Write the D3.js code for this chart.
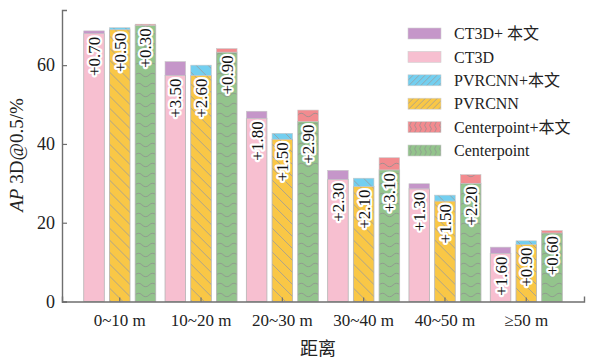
<!DOCTYPE html>
<html>
<head>
<meta charset="utf-8">
<script src="https://cdn.jsdelivr.net/npm/d3@7"></script>
<style>
  body { margin: 0; background: #fff; }
  text { font-family: "Liberation Serif", "Noto Sans CJK SC", serif; }
</style>
</head>
<body>
<script>
// data
var categories = ["0~10 m", "10~20 m", "20~30 m", "30~40 m", "40~50 m", "≥50 m"];
var methods = ["CT3D", "PVRCNN", "Centerpoint"];
var ct3d = [68.0, 57.4, 46.5, 31.0, 28.6, 12.2];
var ct3dGain = [0.70, 3.50, 1.80, 2.30, 1.30, 1.60];
var pvrcnn = [69.0, 57.4, 41.2, 29.2, 25.5, 14.5];
var pvrcnnGain = [0.50, 2.60, 1.50, 2.10, 1.50, 0.90];
var centerpoint = [70.1, 63.3, 45.7, 33.4, 30.0, 17.4];
var centerpointGain = [0.30, 0.90, 2.90, 3.10, 2.20, 0.60];
var yTicks = [0, 20, 40, 60];
var legendLabels = ["CT3D+ 本文", "CT3D", "PVRCNN+本文", "PVRCNN", "Centerpoint+本文", "Centerpoint"];

var width = 595, height = 359;
var svg = d3.select("body").append("svg")
    .attr("width", width)
    .attr("height", height);

// patterns
var defs = svg.append("defs");
function makePattern(id, color, kind, legend) {
  var s = kind == "wave" ? 14 : 12;
  var p = defs.append("pattern")
      .attr("id", id)
      .attr("patternUnits", "userSpaceOnUse")
      .attr("width", s).attr("height", kind == "wave" ? 10 : s);
  if (legend) p.attr("patternTransform", "rotate(90) scale(0.5)");
  p.append("rect").attr("width", s).attr("height", s).attr("fill", color);
  if (kind == "hatch") {
    p.append("path")
      .attr("d", "M0,0L12,12M-6,6L6,18M6,-6L18,6")
      .attr("stroke", "#9a9a9a").attr("stroke-width", legend ? 1.5 : 0.8).attr("fill", "none");
  } else if (kind == "wave") {
    p.append("path")
      .attr("d", "M0,5Q3.5,1.5 7,5T14,5")
      .attr("stroke", "#8f8f8f").attr("stroke-width", legend ? 1.5 : 0.8).attr("fill", "none");
  }
}
var colors = {
  pink: "#f7bfd0", purple: "#c596c9", yellow: "#f9c746",
  blue: "#73cff0", green: "#93c48c", red: "#f28b8f"
};
makePattern("p-yellow", colors.yellow, "hatch");
makePattern("p-blue", colors.blue, "hatch");
makePattern("p-green", colors.green, "wave");
makePattern("p-red", colors.red, "wave");
makePattern("l-yellow", colors.yellow, "hatch", true);
makePattern("l-blue", colors.blue, "hatch", true);
makePattern("l-green", colors.green, "wave", true);
makePattern("l-red", colors.red, "wave", true);

var baseFill = [colors.pink, "url(#p-yellow)", "url(#p-green)"];
var gainFill = [colors.purple, "url(#p-blue)", "url(#p-red)"];

// scales
var x0 = d3.scaleBand()
    .domain(categories)
    .range([62, 584])
    .paddingInner(0)
    .paddingOuter(0.21);

var bw = x0.bandwidth();
var x1 = d3.scaleBand()
    .domain(methods)
    .range([bw / 2 - 36, bw / 2 + 36])
    .paddingInner(0.2);

var y = d3.scaleLinear()
    .domain([0, 74])
    .range([301.5, 10]);

// build rows
var rows = [];
categories.forEach(function(c, i) {
  var bases = [ct3d[i], pvrcnn[i], centerpoint[i]];
  var gains = [ct3dGain[i], pvrcnnGain[i], centerpointGain[i]];
  methods.forEach(function(m, j) {
    rows.push({cat: c, method: m, j: j, base: bases[j], gain: gains[j]});
  });
});

var bars = svg.append("g").selectAll("g")
    .data(rows)
  .enter().append("g")
    .attr("transform", function(d) { return "translate(" + (x0(d.cat) + x1(d.method)) + ",0)"; });

bars.append("rect")
    .attr("y", function(d) { return y(d.base); })
    .attr("height", function(d) { return y(0) - y(d.base); })
    .attr("width", x1.bandwidth())
    .attr("fill", function(d) { return baseFill[d.j]; })
    .attr("stroke", "#b4b4b4")
    .attr("stroke-width", 0.8);

bars.append("rect")
    .attr("y", function(d) { return y(d.base + d.gain); })
    .attr("height", function(d) { return y(d.base) - y(d.base + d.gain); })
    .attr("width", x1.bandwidth())
    .attr("fill", function(d) { return gainFill[d.j]; })
    .attr("stroke", "#c8c8c8")
    .attr("stroke-width", 0.6);

// gain labels
bars.append("text")
    .attr("transform", function(d) {
      return "translate(" + (x1.bandwidth() / 2) + "," + (y(d.base) + 3) + ") rotate(-90)";
    })
    .attr("text-anchor", "end")
    .attr("dy", "0.35em")
    .attr("font-size", 17)
    .attr("fill", "#111")
    .attr("stroke", "#fff")
    .attr("stroke-width", 4.5)
    .attr("stroke-linejoin", "round")
    .attr("paint-order", "stroke")
    .text(function(d) { return "+" + d.gain.toFixed(2); });

// axes
var yAxis = svg.append("g")
    .attr("transform", "translate(62,0)")
    .call(d3.axisLeft(y).tickValues(yTicks).tickSizeInner(-5).tickSizeOuter(-5).tickPadding(7));

var xAxis = svg.append("g")
    .attr("transform", "translate(0," + y(0) + ")")
    .call(d3.axisBottom(x0).tickSizeInner(-4).tickSizeOuter(-5).tickPadding(12));

[yAxis, xAxis].forEach(function(a) {
  a.select(".domain").attr("stroke", "#6f6f6f").attr("stroke-width", 1.4);
  a.selectAll(".tick line").attr("stroke", "#6f6f6f").attr("stroke-width", 1.2);
  a.selectAll(".tick text")
    .attr("font-family", "Liberation Serif, Noto Sans CJK SC, serif")
    .attr("fill", "#222");
});
yAxis.selectAll(".tick text").attr("font-size", 18);
xAxis.selectAll(".tick text").attr("font-size", 17);

// axis titles
var yTitle = svg.append("text")
    .attr("transform", "translate(23,155) rotate(-90)")
    .attr("text-anchor", "middle")
    .attr("font-size", 19)
    .attr("fill", "#222");
yTitle.append("tspan").attr("font-style", "italic").text("AP");
yTitle.append("tspan").text(" 3D@0.5/%");

svg.append("text")
    .attr("x", 318)
    .attr("y", 355)
    .attr("text-anchor", "middle")
    .attr("font-size", 18)
    .attr("fill", "#222")
    .text("距离");

// legend
var legendFill = [colors.purple, colors.pink, "url(#l-blue)", "url(#l-yellow)", "url(#l-red)", "url(#l-green)"];
var legend = svg.append("g").selectAll("g")
    .data(legendLabels)
  .enter().append("g")
    .attr("transform", function(d, i) { return "translate(408," + (33.5 + i * 23.4) + ")"; });

legend.append("rect")
    .attr("y", -5.5)
    .attr("width", 33)
    .attr("height", 11)
    .attr("fill", function(d, i) { return legendFill[i]; })
    .attr("stroke", "#d0d0d0")
    .attr("stroke-width", 0.6);

legend.append("text")
    .attr("x", 46)
    .attr("dy", "0.35em")
    .attr("font-size", 16)
    .attr("fill", "#222")
    .text(function(d) { return d; });
</script>
</body>
</html>
